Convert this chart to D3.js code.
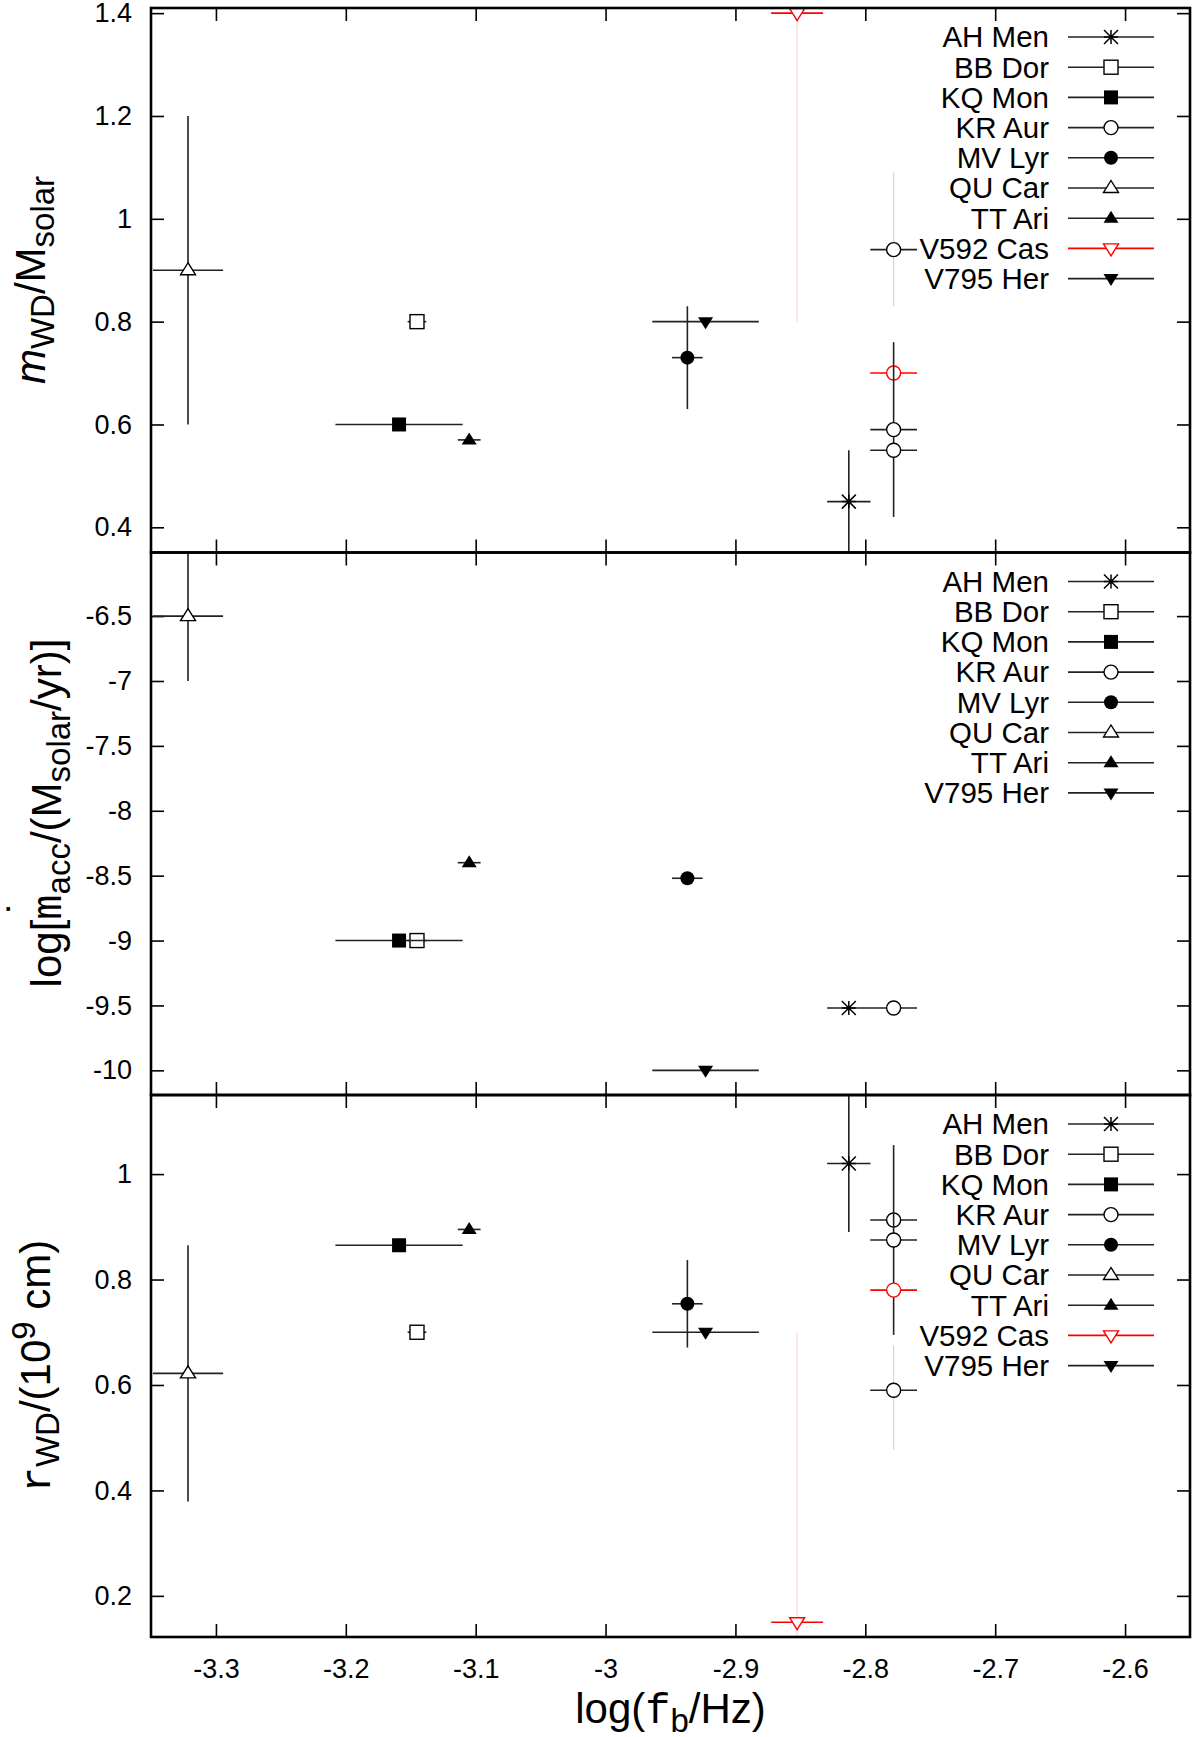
<!DOCTYPE html>
<html>
<head>
<meta charset="utf-8">
<script src="https://cdn.jsdelivr.net/npm/d3@7"></script>
<style>
  body { margin: 0; background: #fff; }
  text { font-family: "Liberation Sans", Arial, sans-serif; fill: #000; }
</style>
</head>
<body>
<div id="chart"></div>
<script>
// stars, their burst frequency log(f_b/Hz) and its error
const stars    = ["AH Men", "BB Dor", "KQ Mon", "KR Aur", "MV Lyr", "QU Car", "TT Ari", "V592 Cas", "V795 Her"];
const logFb    = [-2.8127, -3.1452, -3.159, -2.7782, -2.937, -3.3215, -3.105, -2.8525, -2.9230];
const logFbErr = [0.0167, 0.0072, 0.049, 0.018, 0.0118, 0.027, 0.0088, 0.020, 0.041];
const markers  = ["asterisk", "squareOpen", "square", "circleOpen", "circle", "triUpOpen", "triUp", "triDownOpen", "triDown"];
const starColor = ["black", "black", "black", "black", "black", "black", "black", "red", "black"];

// panel 1: white dwarf mass
const mwdStar  = ["AH Men", "BB Dor", "KQ Mon", "KR Aur", "KR Aur", "KR Aur", "KR Aur", "MV Lyr", "QU Car", "TT Ari", "V592 Cas", "V795 Her"];
const mwdVal   = [0.45, 0.80, 0.60, 0.94, 0.70, 0.59, 0.55, 0.73, 0.90, 0.57, 1.40, 0.80];
const mwdLo    = [0.35, null, null, 0.83, null, 0.42, null, 0.63, 0.60, null, 0.80, null];
const mwdHi    = [0.55, null, null, 1.09, null, 0.76, null, 0.83, 1.20, null, 2.00, null];
const mwdFaint = [0, 0, 0, 1, 0, 0, 0, 0, 0, 0, 1, 0];
const mwdRed   = [0, 0, 0, 0, 1, 0, 0, 0, 0, 0, 1, 0];
const mwdTicks = [0.4, 0.6, 0.8, 1.0, 1.2, 1.4];

// panel 2: accretion rate
const mdotStar  = ["AH Men", "BB Dor", "KQ Mon", "KR Aur", "MV Lyr", "QU Car", "TT Ari", "V795 Her"];
const mdotVal   = [-9.52, -9.0, -9.0, -9.52, -8.52, -6.5, -8.4, -10.0];
const mdotLo    = [null, null, null, null, null, -7.0, null, null];
const mdotHi    = [null, null, null, null, null, -6.0, null, null];
const mdotTicks = [-10, -9.5, -9, -8.5, -8, -7.5, -7, -6.5];

// panel 3: white dwarf radius
const rwdStar  = ["AH Men", "BB Dor", "KQ Mon", "KR Aur", "KR Aur", "KR Aur", "KR Aur", "MV Lyr", "QU Car", "TT Ari", "V592 Cas", "V795 Her"];
const rwdVal   = [1.02, 0.70, 0.865, 0.913, 0.875, 0.78, 0.59, 0.754, 0.622, 0.895, 0.15, 0.70];
const rwdLo    = [0.89, null, null, null, 0.695, null, 0.477, 0.671, 0.379, null, -0.40, null];
const rwdHi    = [1.16, null, null, null, 1.055, null, 0.675, 0.837, 0.865, null, 0.70, null];
const rwdFaint = [0, 0, 0, 0, 0, 0, 1, 0, 0, 0, 1, 0];
const rwdRed   = [0, 0, 0, 0, 0, 1, 0, 0, 0, 0, 1, 0];
const rwdTicks = [0.2, 0.4, 0.6, 0.8, 1.0];

const xTicks = [-3.3, -3.2, -3.1, -3.0, -2.9, -2.8, -2.7, -2.6];

const W = 1200, H = 1737;
const L = 151, R = 1190;
const fmt = d => String(+d.toFixed(2));

const svg = d3.select("#chart").append("svg")
  .attr("width", W).attr("height", H);

const x = d3.scaleLinear().domain([-3.35, -2.55]).range([L, R]);

function marker(g, type, cx, cy, color) {
  const s = 7;
  const open = { fill: "white", stroke: color, "stroke-width": 1.4 };
  const full = { fill: color, stroke: "none" };
  let el;
  if (type === "asterisk") {
    const p = d3.path();
    p.moveTo(cx - s, cy); p.lineTo(cx + s, cy);
    p.moveTo(cx, cy - s); p.lineTo(cx, cy + s);
    p.moveTo(cx - s, cy - s); p.lineTo(cx + s, cy + s);
    p.moveTo(cx - s, cy + s); p.lineTo(cx + s, cy - s);
    g.append("path").attr("d", p.toString()).attr("stroke", color).attr("stroke-width", 1.5).attr("fill", "none");
    return;
  }
  if (type === "squareOpen" || type === "square") {
    el = g.append("rect").attr("x", cx - s).attr("y", cy - s).attr("width", 2 * s).attr("height", 2 * s);
  } else if (type === "circleOpen" || type === "circle") {
    el = g.append("circle").attr("cx", cx).attr("cy", cy).attr("r", s);
  } else if (type.startsWith("triUp")) {
    el = g.append("path").attr("d", `M${cx},${cy - 7.5}L${cx + 7.5},${cy + 4.5}L${cx - 7.5},${cy + 4.5}Z`);
  } else {
    el = g.append("path").attr("d", `M${cx},${cy + 7.5}L${cx + 7.5},${cy - 4.5}L${cx - 7.5},${cy - 4.5}Z`);
  }
  const st = type.endsWith("Open") ? open : full;
  Object.entries(st).forEach(([k, v]) => el.attr(k, v));
}

function panel(opt) {
  const { id, top, bottom, domain, ticks, pStar, pVal, pLo, pHi, pFaint, pRed, showX } = opt;
  const y = d3.scaleLinear().domain(domain).range([bottom, top]);
  const g = svg.append("g");

  svg.append("clipPath").attr("id", "clip" + id)
    .append("rect").attr("x", L).attr("y", top).attr("width", R - L).attr("height", bottom - top);

  // ticks on all four sides, pointing inward
  const tick = a => a.tickSizeOuter(0);
  const ya = g.append("g").attr("transform", `translate(${L},0)`)
    .call(tick(d3.axisLeft(y).tickValues(ticks).tickSize(-13).tickPadding(19).tickFormat(fmt)));
  ya.selectAll("text").style("font-size", "27px").style("font-family", "Liberation Sans, Arial, sans-serif");
  g.append("g").attr("transform", `translate(${R},0)`)
    .call(tick(d3.axisRight(y).tickValues(ticks).tickSize(-13).tickFormat("")));
  g.append("g").attr("transform", `translate(0,${top})`)
    .call(tick(d3.axisTop(x).tickValues(xTicks).tickSize(-13).tickFormat("")));
  const xa = g.append("g").attr("transform", `translate(0,${bottom})`)
    .call(tick(d3.axisBottom(x).tickValues(xTicks).tickSize(-13).tickPadding(22).tickFormat(showX ? fmt : "")));
  xa.selectAll("text").style("font-size", "27px").style("font-family", "Liberation Sans, Arial, sans-serif");
  g.selectAll(".domain").remove();
  g.selectAll(".tick line").attr("stroke", "#000").attr("stroke-width", 1.6);

  // points
  const data = pVal.map((v, i) => {
    const k = stars.indexOf(pStar[i]);
    return {
      x: logFb[k], xe: logFbErr[k], y: v,
      lo: pLo[i], hi: pHi[i],
      faint: pFaint ? pFaint[i] : 0,
      color: (pRed && pRed[i]) ? "red" : starColor[k],
      mk: markers[k]
    };
  });

  const pg = svg.append("g").attr("clip-path", `url(#clip${id})`);
  data.forEach(d => {
    const cx = x(d.x), cy = y(d.y);
    if (d.lo !== null) {
      pg.append("line")
        .attr("x1", cx).attr("x2", cx).attr("y1", y(d.lo)).attr("y2", y(d.hi))
        .attr("stroke", d.faint ? (d.color === "red" ? "#ffd6d6" : "#d4d4d4") : "#222")
        .attr("stroke-width", d.faint ? 1.2 : 1.6);
    }
    pg.append("line")
      .attr("x1", x(d.x - d.xe)).attr("x2", x(d.x + d.xe)).attr("y1", cy).attr("y2", cy)
      .attr("stroke", d.color === "red" ? "red" : "#222").attr("stroke-width", 1.6);
    marker(pg, d.mk, cx, cy, d.color);
  });

  // frame
  svg.append("rect").attr("x", L).attr("y", top).attr("width", R - L).attr("height", bottom - top)
    .attr("fill", "none").attr("stroke", "#000").attr("stroke-width", 2.6);

  // legend
  const legendStars = stars.filter(s => pStar.includes(s));
  const lg = svg.append("g");
  legendStars.forEach((s, i) => {
    const k = stars.indexOf(s);
    const ly = top + 29 + i * 30.2;
    lg.append("text").attr("x", 1049).attr("y", ly).attr("dy", "0.35em")
      .attr("text-anchor", "end").style("font-size", "29.5px").text(s);
    lg.append("line").attr("x1", 1068).attr("x2", 1154).attr("y1", ly).attr("y2", ly)
      .attr("stroke", starColor[k] === "red" ? "red" : "#222").attr("stroke-width", 1.6);
    marker(lg, markers[k], 1111, ly, starColor[k]);
  });
  return y;
}

panel({ id: 1, top: 8, bottom: 552.5, domain: [0.351, 1.41], ticks: mwdTicks,
  pStar: mwdStar, pVal: mwdVal, pLo: mwdLo, pHi: mwdHi, pFaint: mwdFaint, pRed: mwdRed, showX: false });
panel({ id: 2, top: 552.5, bottom: 1095, domain: [-10.19, -6.01], ticks: mdotTicks,
  pStar: mdotStar, pVal: mdotVal, pLo: mdotLo, pHi: mdotHi, showX: false });
panel({ id: 3, top: 1095, bottom: 1637, domain: [0.122, 1.15], ticks: rwdTicks,
  pStar: rwdStar, pVal: rwdVal, pLo: rwdLo, pHi: rwdHi, pFaint: rwdFaint, pRed: rwdRed, showX: true });

// axis titles
const mono = '"Liberation Mono", "Courier New", "DejaVu Sans Mono", monospace';

const t1 = svg.append("text").attr("transform", "translate(45,280) rotate(-90)")
  .attr("text-anchor", "middle").style("font-size", "42px");
t1.append("tspan").style("font-style", "italic").text("m");
t1.append("tspan").attr("dy", 9).style("font-size", "33px").text("WD");
t1.append("tspan").attr("dy", -9).text("/M");
t1.append("tspan").attr("dy", 9).style("font-size", "33px").text("solar");

const t2 = svg.append("text").attr("transform", "translate(61,813) rotate(-90)")
  .attr("text-anchor", "middle").style("font-size", "42px");
t2.append("tspan").text("log[");
t2.append("tspan").style("font-family", mono).text("m");
t2.append("tspan").attr("dy", 9).style("font-size", "33px").text("acc");
t2.append("tspan").attr("dy", -9).text("/(M");
t2.append("tspan").attr("dy", 9).style("font-size", "33px").text("solar");
t2.append("tspan").attr("dy", -9).text("/yr)]");
// the dot over the m (time derivative), placed above that character
const mBox = t2.node().getExtentOfChar(4);
svg.append("text").attr("transform", "translate(61,813) rotate(-90)")
  .attr("x", mBox.x + mBox.width / 2).attr("y", -24)
  .attr("text-anchor", "middle").style("font-size", "42px").text("˙");

const t3 = svg.append("text").attr("transform", "translate(50,1366) rotate(-90)")
  .attr("text-anchor", "middle").style("font-size", "42px");
t3.append("tspan").style("font-family", mono).text("r");
t3.append("tspan").attr("dy", 9).style("font-size", "33px").text("WD");
t3.append("tspan").attr("dy", -9).text("/(10");
t3.append("tspan").attr("dy", -15).style("font-size", "33px").text("9");
t3.append("tspan").attr("dy", 15).text(" cm)");

const tx = svg.append("text").attr("x", (L + R) / 2).attr("y", 1723)
  .attr("text-anchor", "middle").style("font-size", "42px");
tx.append("tspan").text("log(");
tx.append("tspan").style("font-family", mono).text("f");
tx.append("tspan").attr("dy", 9).style("font-size", "33px").text("b");
tx.append("tspan").attr("dy", -9).text("/Hz)");
</script>
</body>
</html>
